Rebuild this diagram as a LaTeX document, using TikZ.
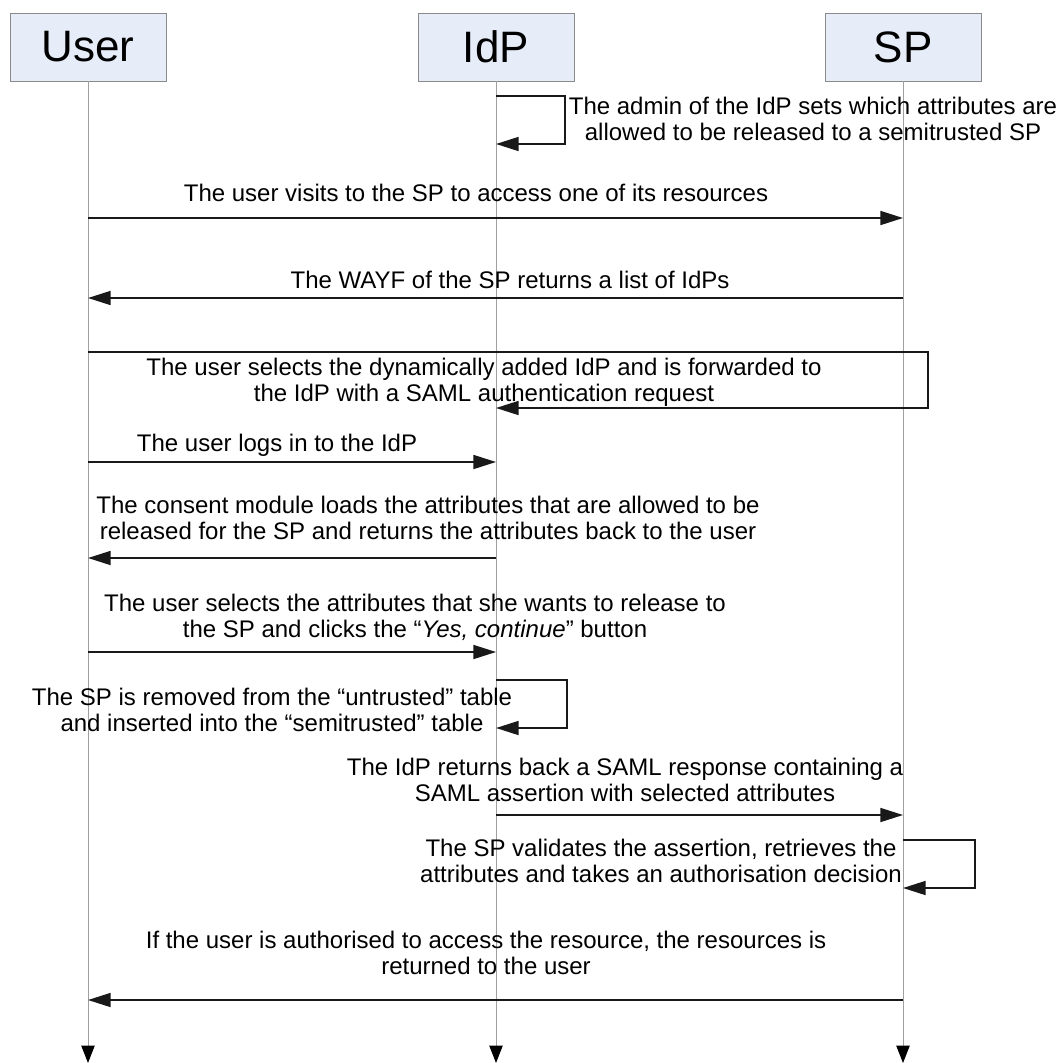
\documentclass[tikz,border=0pt]{standalone}
\usepackage{fontspec}
\setmainfont{Liberation Sans}
\usepackage{tikz}
\usetikzlibrary{arrows.meta, positioning}
\definecolor{headfill}{RGB}{230, 236, 248}
\definecolor{headdraw}{RGB}{138, 138, 138}
\definecolor{lifegray}{RGB}{160, 160, 160}

\begin{document}
\begin{tikzpicture}[
			x=0.75pt, y=-0.75pt,
			actor/.style={rectangle, draw=headdraw, fill=headfill, minimum width=117pt, minimum height=51pt, inner sep=0pt, font=\fontsize{33}{38}\selectfont},
			lifeline/.style={draw=lifegray, line width=0.75pt, -{Triangle[length=13pt, width=10pt, color=black, fill=black]}},
			msg/.style={draw=black!90, line width=1.3pt, -{Triangle[length=17pt, width=10.5pt]}},
			label/.style={align=center, inner sep=0pt, font=\fontsize{18}{19.5}\selectfont}
		]
		\useasboundingbox (0,0) rectangle (1061,1063);
		% Actors and lifelines
		\node[actor] (user) at (88,47) {User};
		\node[actor] (idp) at (496,47) {IdP};
		\node[actor] (sp) at (903,47) {SP};
		\coordinate (user-end) at (88,1063);
		\coordinate (idp-end) at (496,1063);
		\coordinate (sp-end) at (903,1063);
		\draw[lifeline] (user) -- (user-end);
		\draw[lifeline] (idp) -- (idp-end);
		\draw[lifeline] (sp) -- (sp-end);
		
		% IdP configuration
		\draw[msg] (idp.south |- 0,96) -| (565,144) -- (idp.south |- 0,144);
		\node[label] (admin) at (813,119) {The admin of the IdP sets which attributes are\\allowed to be released to a semitrusted SP};
		
		% Discovery
		\draw[msg] (user.south |- 0,218) -- (sp.south |- 0,218);
		\node[label] (visit) at (476,193) {The user visits to the SP to access one of its resources};
		\draw[msg] (sp.south |- 0,298) -- (user.south |- 0,298);
		\node[label] (wayf) at (510,280) {The WAYF of the SP returns a list of IdPs};
		\draw[msg] (user.south |- 0,352) -| (928,408) -- (idp.south |- 0,408);
		\node[label] (forward) at (484,382) {The user selects the dynamically added IdP and is forwarded to\\the IdP with a SAML authentication request};
		
		% Login and consent
		\draw[msg] (user.south |- 0,462) -- (idp.south |- 0,462);
		\node[label] (login) at (277,445) {The user logs in to the IdP};
		\draw[msg] (idp.south |- 0,558) -- (user.south |- 0,558);
		\node[label] (consent) at (428,518) {The consent module loads the attributes that are allowed to be\\released for the SP and returns the attributes back to the user};
		\draw[msg] (user.south |- 0,652) -- (idp.south |- 0,652);
		\node[label] (release) at (415,617) {The user selects the attributes that she wants to release to\\the SP and clicks the ``\textit{Yes, continue}'' button};
		\draw[msg] (idp.south |- 0,680) -| (567,728) -- (idp.south |- 0,728);
		\node[label] (tables) at (272,710) {The SP is removed from the ``untrusted'' table\\and inserted into the ``semitrusted'' table};
		
		% Response
		\draw[msg] (idp.south |- 0,815) -- (sp.south |- 0,815);
		\node[label] (response) at (625,780) {The IdP returns back a SAML response containing a\\SAML assertion with selected attributes};
		\draw[msg] (sp.south |- 0,840) -| (975,888) -- (sp.south |- 0,888);
		\node[label] (validate) at (661,861) {The SP validates the assertion, retrieves the\\attributes and takes an authorisation decision};
		\draw[msg] (sp.south |- 0,1000) -- (user.south |- 0,1000);
		\node[label] (resource) at (486,953) {If the user is authorised to access the resource, the resources is\\returned to the user};
		\end{tikzpicture}
\end{document}
